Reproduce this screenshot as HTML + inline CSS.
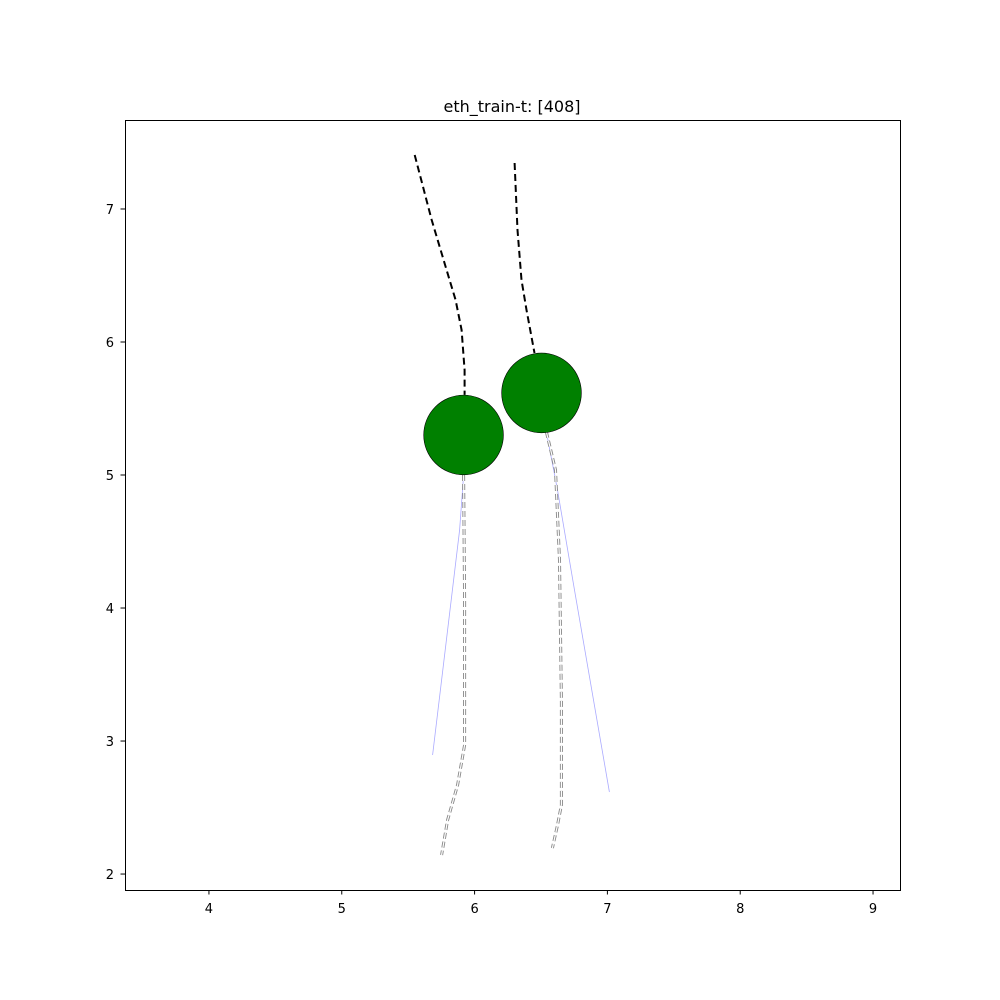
<!DOCTYPE html>
<html><head><meta charset="utf-8">
<style>
html,body{margin:0;padding:0;background:#fff;}
svg{display:block;font-family:"DejaVu Sans","Liberation Sans",sans-serif;}
</style></head>
<body>
<svg id="chart" width="1000" height="1000" viewBox="0 0 1000 1000" xmlns="http://www.w3.org/2000/svg">
<rect x="0" y="0" width="1000" height="1000" fill="#fff"/>
<text x="512" y="112" text-anchor="middle" font-size="16">eth_train-t: [408]</text>
<g id="plot"></g>
<rect x="125.5" y="120.5" width="775" height="770" fill="none" stroke="#000" stroke-width="1"/>
<g id="axes"></g>
</svg>
<script>
const xTicks = [4,5,6,7,8,9];
const yTicks = [2,3,4,5,6,7];
const pastX1 = [5.549,5.677,5.789,5.857,5.902,5.925,5.925];
const pastY1 = [7.406,6.917,6.541,6.316,6.090,5.789,5.602];
const pastX2 = [6.301,6.323,6.353,6.391,6.451];
const pastY2 = [7.346,6.842,6.466,6.241,5.917];
const gtX1 = [5.917,5.925,5.925,5.872,5.797,5.752];
const gtY1 = [5.0,4.06,2.97,2.67,2.406,2.143];
const gtX2 = [6.541,6.609,6.639,6.654,6.654,6.624,6.586];
const gtY2 = [5.323,5.038,4.361,3.308,2.519,2.368,2.195];
const predX1 = [5.917,5.887,5.684];
const predY1 = [5.0,4.586,2.895];
const predX2 = [6.541,6.624,6.752,7.015];
const predY2 = [5.323,4.887,4.135,2.617];
const agentX = [5.917,6.504];
const agentY = [5.301,5.617];
const agentR = 0.3;

const X0=125,X1=900,Y0=120,Y1=890;
const xmin=3.368,xmax=9.203,ymin=1.880,ymax=7.669;
const sx=v=>X0+(v-xmin)/(xmax-xmin)*(X1-X0);
const sy=v=>Y1-(v-ymin)/(ymax-ymin)*(Y1-Y0);
const NS="http://www.w3.org/2000/svg";
const plot=document.getElementById('plot');
const axes=document.getElementById('axes');
function pts(xs,ys){return xs.map((x,i)=>sx(x).toFixed(1)+','+sy(ys[i]).toFixed(1)).join(' ');}
function line(parent,xs,ys,stroke,w,dash,name){
  const p=document.createElementNS(NS,'polyline');
  p.setAttribute('points',pts(xs,ys));
  p.setAttribute('fill','none');
  p.setAttribute('stroke',stroke);
  p.setAttribute('stroke-width',w);
  if(dash)p.setAttribute('stroke-dasharray',dash);
  
  
  parent.appendChild(p);
}
// predictions (blue thin)
line(plot,predX1,predY1,'#aaaaff',0.8,null,'prediction-line-1');
line(plot,predX2,predY2,'#aaaaff',0.8,null,'prediction-line-2');
// ground truth future (gray outlined dashes)
[[gtX1,gtY1,1],[gtX2,gtY2,2]].forEach(([xs,ys,k])=>{
  line(plot,xs,ys,'#888',3,'6,3','ground-truth-outline-'+k);
  line(plot,xs,ys,'#fff',1.2,'6,3','ground-truth-line-'+k);
});
// past (black dashed)
line(plot,pastX1,pastY1,'#000',2,'7,4','past-trajectory-1');
line(plot,pastX2,pastY2,'#000',2,'7,4','past-trajectory-2');
// agents
agentX.forEach((x,i)=>{
  const c=document.createElementNS(NS,'circle');
  c.setAttribute('cx',sx(x));c.setAttribute('cy',sy(agentY[i]));
  c.setAttribute('r',(sx(agentR)-sx(0)));
  c.setAttribute('fill','#008000');c.setAttribute('stroke','#000');c.setAttribute('stroke-width','0.6');
  
  
  plot.appendChild(c);
});
// ticks
xTicks.forEach(t=>{
  const x=sx(t);
  const l=document.createElementNS(NS,'line');
  l.setAttribute('x1',x);l.setAttribute('x2',x);l.setAttribute('y1',890);l.setAttribute('y2',894.5);
  l.setAttribute('stroke','#000');
  
  
  axes.appendChild(l);
  const tx=document.createElementNS(NS,'text');
  tx.setAttribute('x',x);tx.setAttribute('y',913);tx.setAttribute('text-anchor','middle');tx.setAttribute('font-size','13');
  tx.textContent=t;
  
  
  axes.appendChild(tx);
});
yTicks.forEach(t=>{
  const y=sy(t);
  const l=document.createElementNS(NS,'line');
  l.setAttribute('x1',120.5);l.setAttribute('x2',125);l.setAttribute('y1',y);l.setAttribute('y2',y);
  l.setAttribute('stroke','#000');
  
  
  axes.appendChild(l);
  const tx=document.createElementNS(NS,'text');
  tx.setAttribute('x',114);tx.setAttribute('y',y+5);tx.setAttribute('text-anchor','end');tx.setAttribute('font-size','13');
  tx.textContent=t;
  
  
  axes.appendChild(tx);
});
</script>
</body></html>
